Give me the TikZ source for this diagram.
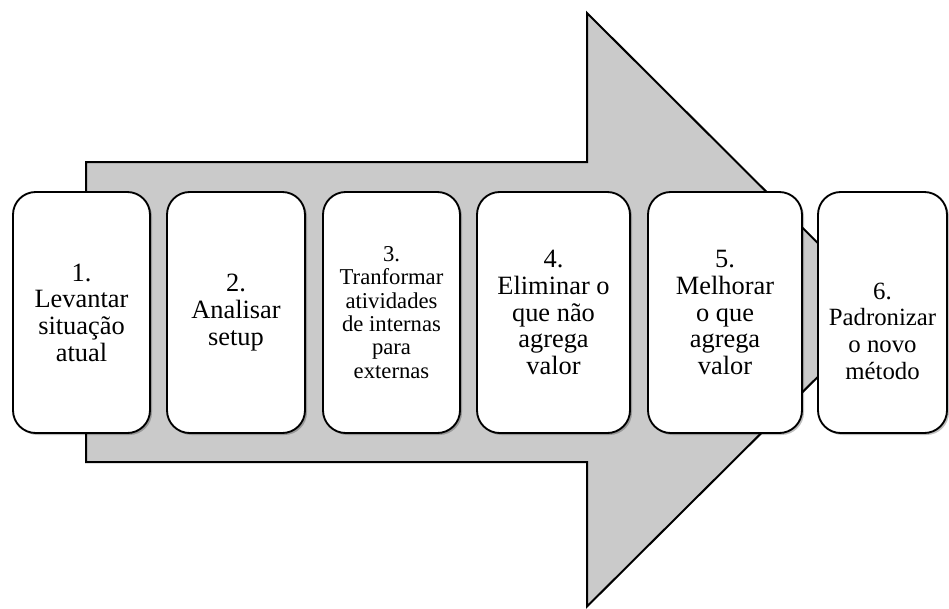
\documentclass[tikz,border=0pt]{standalone}
\usepackage{fontspec}
\setmainfont{Liberation Serif}
\newfontfamily\stepfont{Liberation Serif}
\usetikzlibrary{shadows}
\definecolor{arrowgray}{RGB}{202,202,202}
\begin{document}
\begin{tikzpicture}[x=0.75pt,y=-0.75pt,
  bigarrow/.style={draw=black, line width=1.5pt, fill=arrowgray, line join=miter},
  stepbox/.style={draw=black, line width=1.4pt, fill=white, rounded corners=17pt,
    minimum height=180.75pt, inner sep=0pt, align=center,
    drop shadow={shadow xshift=1.5pt, shadow yshift=-1.5pt, opacity=0.25, fill=black}},
  bigtext/.style={font=\stepfont\fontsize{19.8}{20}\selectfont},
  midtext/.style={font=\stepfont\fontsize{17}{17.5}\selectfont},
  smalltext/.style={font=\stepfont\fontsize{18.6}{20}\selectfont, align=center, inner sep=0pt}
]
\useasboundingbox (0,0) rectangle (949,608);
% big arrow
\draw[bigarrow] (86,162) -- (587,162) -- (587,13) -- (885,310) -- (587,606.5) -- (587,462) -- (86,462) -- cycle;
% steps
\node[stepbox, bigtext, minimum width=102.75pt] (b1) at (81.5,312.5) {1.\\Levantar\\situação\\atual};
\node[stepbox, bigtext, minimum width=103.5pt] (b2) at (236,312.5) {2.\\Analisar\\setup};
\node[stepbox, midtext, minimum width=102.75pt] (b3) at (391.5,312.5) {3.\\Tranformar\\atividades\\de internas\\para\\externas};
\node[stepbox, bigtext, minimum width=114.75pt] (b4) at (553.5,312.5) {4.\\Eliminar o\\que não\\agrega\\valor};
\node[stepbox, bigtext, minimum width=115.5pt] (b5) at (725,312.5) {5.\\Melhorar\\o que\\agrega\\valor};
\node[stepbox, minimum width=96.75pt] (b6) at (882.5,312.5) {};
\node[smalltext] (t6) at ([yshift=-14pt]b6.center) {6.\\Padronizar\\o novo\\método};
\end{tikzpicture}
\end{document}
